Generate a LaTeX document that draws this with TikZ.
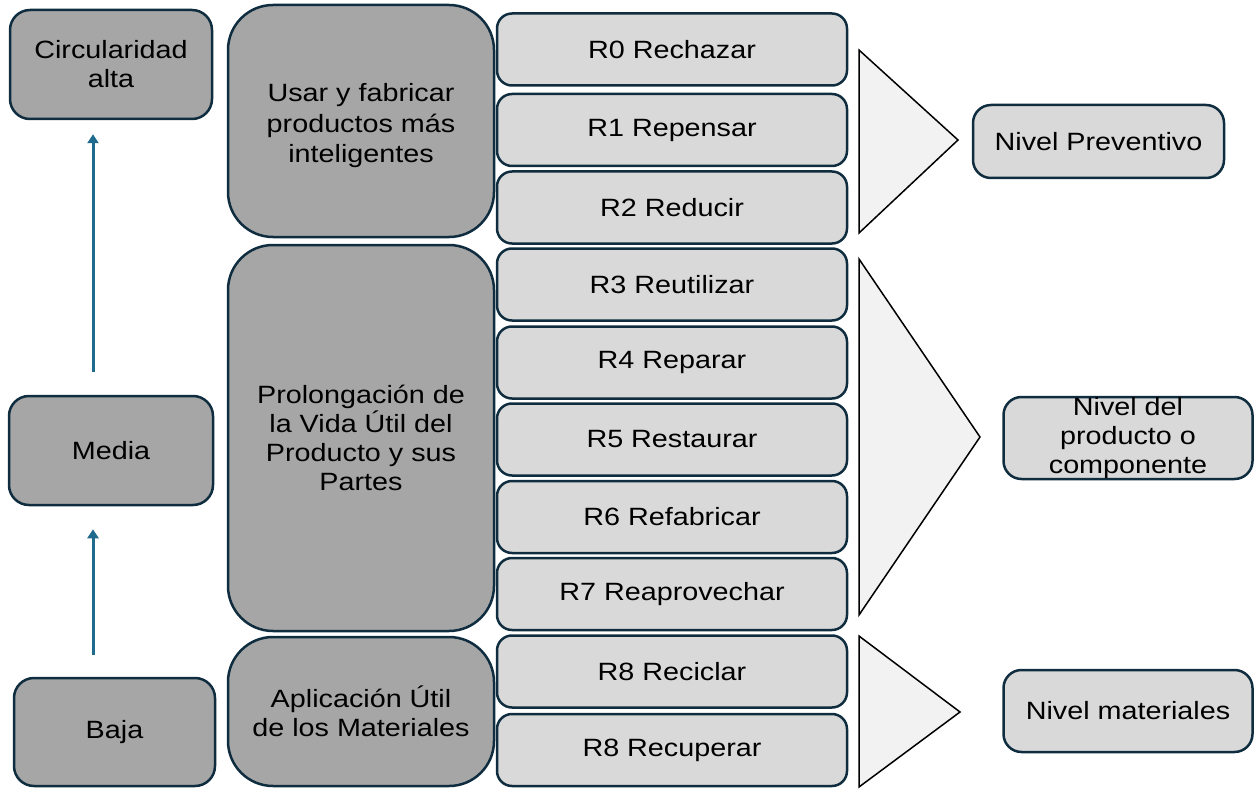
\documentclass[tikz,border=0pt]{standalone}
\usepackage{fontspec}
\setmainfont{Liberation Sans}[FakeStretch=1.15]
\usetikzlibrary{arrows.meta}
\definecolor{dgray}{HTML}{A6A6A6}
\definecolor{lgray}{HTML}{D9D9D9}
\definecolor{edgec}{HTML}{0F2D3F}
\definecolor{arrowc}{HTML}{1F6B8E}
\definecolor{trifill}{HTML}{F2F2F2}
\begin{document}
\begin{tikzpicture}[x=1pt,y=-1pt,
 base/.style={draw=edgec, line width=2.5pt, align=center, font=\fontsize{25}{29}\selectfont, inner sep=0pt},
 levelbox/.style={base, fill=dgray, rounded corners=20pt},
 groupbox/.style={base, fill=dgray, rounded corners=45pt},
 rbox/.style={base, fill=lgray, rounded corners=15pt, minimum width=350pt, minimum height=72pt},
 lvlbox/.style={base, fill=lgray, rounded corners=18pt},
 plaintext/.style={align=center, font=\fontsize{25}{30.5}\selectfont, inner sep=0pt},
 tri/.style={draw=black, line width=1.5pt, fill=trifill, line join=miter},
 uparrow/.style={draw=arrowc, line width=3pt, -{Triangle[width=11pt,length=9pt]}}]
\useasboundingbox (0,0) rectangle (1254,789);

% left column
\node[levelbox, minimum width=202pt, minimum height=109pt] (circ) at (111,64.5) {Circularidad\\alta};
\node[levelbox, minimum width=204pt, minimum height=109pt] (media) at (111,450.5) {Media};
\node[levelbox, minimum width=201pt, minimum height=108pt] (baja) at (114.5,732) {Baja};

\draw[uparrow] ([xshift=-18pt,yshift=23pt]media.north) -- ([xshift=-18pt,yshift=-14pt]circ.south);
\draw[uparrow] ([xshift=-21.5pt,yshift=22pt]baja.north) -- ([xshift=-18pt,yshift=-23pt]media.south);

% groups
\node[groupbox, minimum width=266pt, minimum height=232pt] (g1) at (361,121) {};
\node[plaintext] (g1t) at (361,126) {Usar y fabricar\\productos más\\inteligentes};
\node[groupbox, minimum width=266pt, minimum height=386pt] (g2) at (361,438) {Prolongación de\\la Vida Útil del\\Producto y sus\\Partes};
\node[groupbox, minimum width=266pt, minimum height=149pt] (g3) at (361,711.5) {Aplicación Útil\\de los Materiales};

% R boxes
\node[rbox] (r0) at (672,49.5) {R0 Rechazar};
\node[rbox] (r1) at (672,130) {R1 Repensar};
\node[rbox] (r2) at (672,207.5) {R2 Reducir};
\node[rbox] (r3) at (672,284.5) {R3 Reutilizar};
\node[rbox] (r4) at (672,362.5) {R4 Reparar};
\node[rbox] (r5) at (672,439.5) {R5 Restaurar};
\node[rbox] (r6) at (672,517) {R6 Refabricar};
\node[rbox] (r7) at (672,594) {R7 Reaprovechar};
\node[rbox] (r8) at (672,671.5) {R8 Reciclar};
\node[rbox] (r9) at (672,750) {R8 Recuperar};

% triangles
\draw[tri] (859,50) -- (958,140) -- (859,233) -- cycle;
\draw[tri] (859,259) -- (980,437) -- (859,615) -- cycle;
\draw[tri] (859,636) -- (960,712) -- (859,787) -- cycle;

% level boxes
\node[lvlbox, minimum width=251pt, minimum height=73pt] (prev) at (1098.5,141.5) {Nivel Preventivo};
\node[lvlbox, minimum width=249pt, minimum height=82pt] (prod) at (1128,438) {Nivel del\\producto o\\componente};
\node[lvlbox, minimum width=249pt, minimum height=82pt] (mat) at (1128,711) {Nivel materiales};
\end{tikzpicture}
\end{document}
